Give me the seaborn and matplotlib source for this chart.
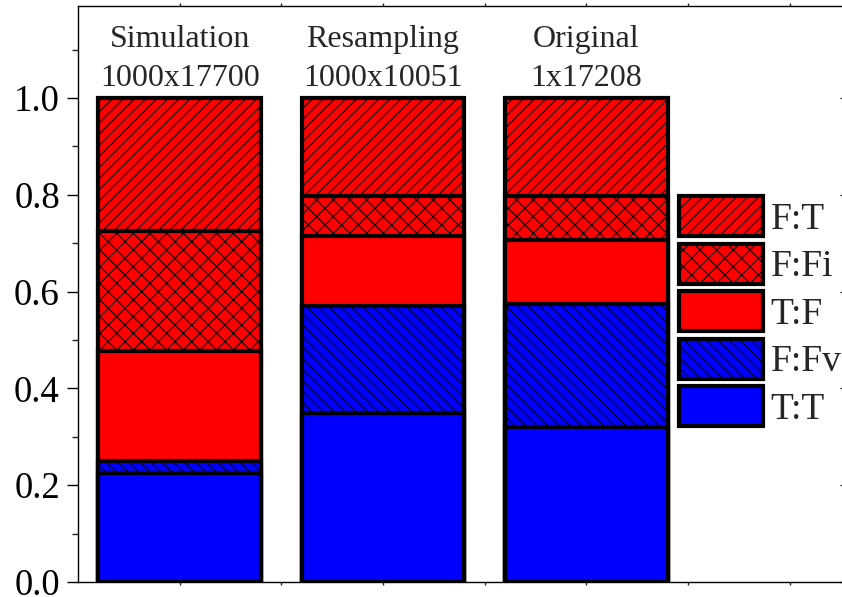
import numpy as np
import pandas as pd
import matplotlib
matplotlib.use("Agg")
import matplotlib.pyplot as plt
import seaborn as sns
from matplotlib.patches import Patch
from matplotlib.ticker import MultipleLocator, NullFormatter

# ---- data ----
groups = ["Simulation", "Resampling", "Original"]
sizes = ["1000x17700", "1000x10051", "1x17208"]
series = ["T:T", "F:Fv", "T:F", "F:Fi", "F:T"]   # bottom -> top
t_t = [0.225, 0.349, 0.320]
f_fv = [0.026, 0.221, 0.254]
t_f = [0.226, 0.145, 0.133]
f_fi = [0.248, 0.083, 0.091]
f_t = [0.275, 0.202, 0.202]

values = {"T:T": t_t, "F:Fv": f_fv, "T:F": t_f, "F:Fi": f_fi, "F:T": f_t}
colors = {"T:T": "#0000FF", "F:Fv": "#0000FF", "T:F": "#FF0000",
          "F:Fi": "#FF0000", "F:T": "#FF0000"}
hatches = {"T:T": "", "F:Fv": "\\\\\\", "T:F": "", "F:Fi": "xx", "F:T": "///"}

sns.set_style("ticks")
plt.rcParams["font.family"] = ["Liberation Serif", "DejaVu Serif"]
plt.rcParams["hatch.linewidth"] = 0.8
plt.rcParams["hatch.color"] = "black"

W, H = 842, 597
fig = plt.figure(figsize=(W / 100, H / 100), dpi=100)
x0, x1, yb, yt = 78, 847, 582, 6
ax = fig.add_axes([x0 / W, 1 - yb / H, (x1 - x0) / W, (yb - yt) / H])

cum = np.cumsum([values[s] for s in series], axis=0)
for i in reversed(range(len(series))):
    s = series[i]
    df = pd.DataFrame({"group": groups, "top": cum[i]})
    sns.barplot(data=df, x="group", y="top", color=colors[s], saturation=1,
                width=0.8, edgecolor="black", linewidth=3, hatch=hatches[s],
                errorbar=None, ax=ax)

for i, (g, sz) in enumerate(zip(groups, sizes)):
    ax.text(i, 1.105, g, ha="center", va="baseline", fontsize=23)
    ax.text(i, 1.025, sz, ha="center", va="baseline", fontsize=23)

ax.set_xlim(-0.5, (x1 - x0) / 203.3 - 0.5)
ax.set_ylim(0, 1.19)
ax.set_xlabel("")
ax.set_ylabel("")
ax.set_xticks(np.arange(0, 3.01, 0.5))
ax.set_xticklabels([])
ax.yaxis.set_major_locator(MultipleLocator(0.2))
ax.yaxis.set_minor_locator(MultipleLocator(0.1))
ax.yaxis.set_major_formatter(matplotlib.ticker.FormatStrFormatter("%.1f"))
ax.tick_params(axis="y", which="major", direction="out", length=8, width=1,
               labelsize=26.5, pad=5, colors="black")
ax.tick_params(axis="y", which="minor", direction="out", length=4.5, width=1)
ax.tick_params(axis="x", which="major", direction="out", length=2.5, width=1,
               top=True)
for sp in ax.spines.values():
    sp.set_linewidth(1.0)
    sp.set_color("black")

sec = ax.secondary_yaxis("right")
sec.yaxis.set_major_locator(MultipleLocator(0.2))
sec.tick_params(direction="in", length=5, width=1, labelright=False)
sec.yaxis.set_major_formatter(NullFormatter())

handles = [Patch(facecolor=colors[s], edgecolor="black", hatch=hatches[s],
                 linewidth=3, label=s) for s in reversed(series)]
fig.legend(handles=handles, loc="upper left",
           bbox_to_anchor=(679 / W, 1 - 196 / H), frameon=False,
           fontsize=27, handlelength=2.24, handleheight=1.264,
           labelspacing=0.187, handletextpad=0.2, borderpad=0,
           borderaxespad=0)

fig.savefig("out.png", dpi=100)
